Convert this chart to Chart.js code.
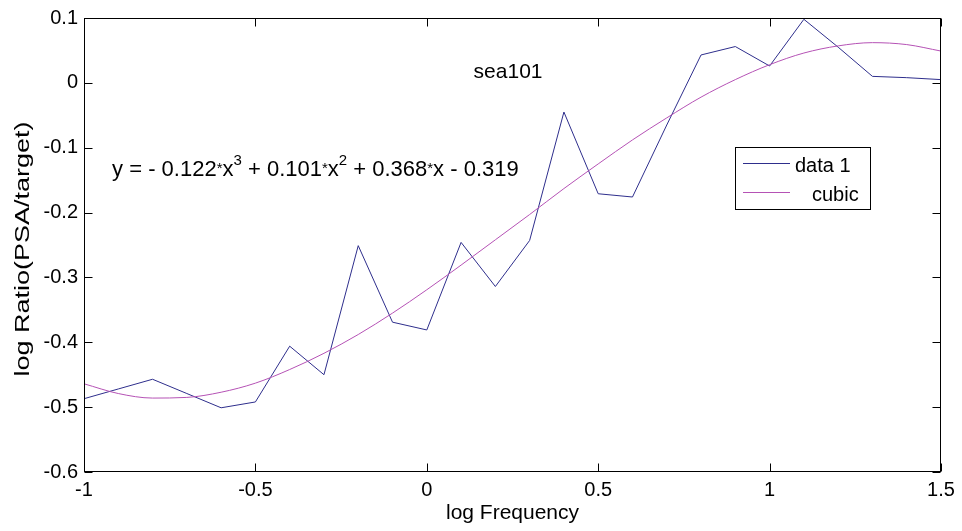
<!DOCTYPE html>
<html>
<head>
<meta charset="utf-8">
<title>sea101</title>
<script src="https://cdn.jsdelivr.net/npm/chart.js@4/dist/chart.umd.min.js"></script>
<style>
  body { margin: 0; background: #fff; }
</style>
</head>
<body>
<canvas id="chart" width="962" height="531"></canvas>
<script>
// log frequency samples (x)
var log_freq = [-1, -0.9, -0.8, -0.7, -0.6, -0.5, -0.4, -0.3, -0.2, -0.1, 0, 0.1, 0.2, 0.3, 0.4, 0.5, 0.6, 0.7, 0.8, 0.9, 1, 1.1, 1.2, 1.3, 1.4, 1.5];

// measured log ratio, "data 1"
var ratio_data = [-0.487, -0.472, -0.457, -0.479, -0.501, -0.492, -0.406, -0.450, -0.251, -0.369, -0.381, -0.246, -0.314, -0.243, -0.045, -0.171, -0.176, -0.065, 0.043, 0.056, 0.026, 0.098, 0.055, 0.010, 0.008, 0.005];

// cubic fit
var cubic_fit = [-0.464, -0.479, -0.486, -0.485, -0.477, -0.463, -0.442, -0.417, -0.388, -0.355, -0.319, -0.281, -0.242, -0.203, -0.163, -0.125, -0.088, -0.054, -0.022, 0.005, 0.028, 0.046, 0.057, 0.062, 0.059, 0.049];

var x_ticks = [-1, -0.5, 0, 0.5, 1, 1.5];
var y_ticks = [-0.6, -0.5, -0.4, -0.3, -0.2, -0.1, 0, 0.1];

var series_names = ["data 1", "cubic"];
var series_colors = ["#2e2e8c", "#b552b5"];

var plot_title = "sea101";
var x_title = "log Frequency";
var y_title = "log Ratio(PSA/target)";

function toPoints(xs, ys) {
    var pts = [];
    for (var i = 0; i < xs.length; i++) {
        pts.push({x: xs[i], y: ys[i]});
    }
    return pts;
}

function fmt(v) {
    return Number(v.toFixed(1)).toString();
}

var FONT = "'Liberation Sans', Arial, sans-serif";

// matlab style box with ticks pointing inside, plus text and legend
var matlabBox = {
    id: 'matlabBox',
    afterDatasetsDraw: function(chart) {
        var ctx = chart.ctx;
        var a = chart.chartArea;
        var xs = chart.scales.x;
        var ys = chart.scales.y;
        var L = Math.round(a.left) + 0.5, R = Math.round(a.right) - 0.5;
        var T = Math.round(a.top) + 0.5, B = Math.round(a.bottom) - 0.5;
        ctx.save();
        ctx.strokeStyle = '#000';
        ctx.lineWidth = 1;
        ctx.strokeRect(L, T, R - L, B - T);
        ctx.beginPath();
        x_ticks.forEach(function(v) {
            var px = Math.round(xs.getPixelForValue(v)) + 0.5;
            ctx.moveTo(px, B); ctx.lineTo(px, B - 8);
            ctx.moveTo(px, T); ctx.lineTo(px, T + 8);
        });
        y_ticks.forEach(function(v) {
            var py = Math.round(ys.getPixelForValue(v)) + 0.5;
            ctx.moveTo(L, py); ctx.lineTo(L + 8, py);
            ctx.moveTo(R, py); ctx.lineTo(R - 8, py);
        });
        ctx.stroke();

        // title text inside the axes
        ctx.fillStyle = '#000';
        ctx.font = '21px ' + FONT;
        ctx.textAlign = 'center';
        ctx.textBaseline = 'alphabetic';
        ctx.fillText(plot_title, xs.getPixelForValue(0.237), ys.getPixelForValue(0.008));

        // fit equation
        var parts = [
            ["y = - 0.122", 0], ["*", 1], ["x", 0], ["3", 2],
            [" + 0.101", 0], ["*", 1], ["x", 0], ["2", 2],
            [" + 0.368", 0], ["*", 1], ["x - 0.319", 0]
        ];
        var ex = xs.getPixelForValue(-0.918);
        var ey = ys.getPixelForValue(-0.143);
        ctx.textAlign = 'left';
        parts.forEach(function(p) {
            var dy = 0;
            if (p[1] === 0) ctx.font = '22px ' + FONT;
            if (p[1] === 1) { ctx.font = '15px ' + FONT; dy = -3; }
            if (p[1] === 2) { ctx.font = '15px ' + FONT; dy = -11; }
            ctx.fillText(p[0], ex, ey + dy);
            ex += ctx.measureText(p[0]).width;
        });

        // legend box
        var bx = a.right - 206, by = a.top + 129, bw = 135, bh = 62;
        ctx.fillStyle = '#fff';
        ctx.fillRect(bx, by, bw, bh);
        ctx.strokeRect(Math.round(bx) + 0.5, Math.round(by) + 0.5, bw, bh);
        var ds = chart.data.datasets;
        ctx.font = '20px ' + FONT;
        ctx.textBaseline = 'alphabetic';
        for (var i = 0; i < ds.length; i++) {
            var ly = by + 16 + i * 29;
            ctx.strokeStyle = ds[i].borderColor;
            ctx.beginPath();
            ctx.moveTo(bx + 8, ly + 0.5);
            ctx.lineTo(bx + 55, ly + 0.5);
            ctx.stroke();
            ctx.fillStyle = '#000';
            ctx.fillText(ds[i].label, bx + (i === 0 ? 60 : 77), ly + 9);
        }
        ctx.restore();

        // y axis title, matlab draws the rotated text stretched lengthwise
        ctx.save();
        ctx.translate(23, (a.top + a.bottom) / 2 + 4);
        ctx.rotate(-Math.PI / 2);
        ctx.scale(1.35, 1);
        ctx.font = '20px ' + FONT;
        ctx.fillStyle = '#000';
        ctx.textAlign = 'center';
        ctx.textBaseline = 'middle';
        ctx.fillText(y_title, 0, 0);
        ctx.restore();
    }
};

Chart.defaults.color = '#000';
Chart.defaults.font.family = FONT;

var myChart = new Chart(document.getElementById("chart"), {
    type: 'line',
    data: {
        datasets: [{
            label: series_names[0],
            data: toPoints(log_freq, ratio_data),
            borderColor: series_colors[0],
            borderWidth: 1,
            pointRadius: 0,
            tension: 0,
            order: 2
        }, {
            label: series_names[1],
            data: toPoints(log_freq, cubic_fit),
            borderColor: series_colors[1],
            borderWidth: 1,
            pointRadius: 0,
            cubicInterpolationMode: 'monotone',
            order: 1
        }]
    },
    options: {
        responsive: false,
        animation: false,
        layout: {
            padding: {left: 0, top: 17, right: 21, bottom: 0}
        },
        plugins: {
            legend: {display: false},
            tooltip: {enabled: false}
        },
        scales: {
            x: {
                type: 'linear',
                min: -1,
                max: 1.5,
                grid: {display: false, drawTicks: false},
                border: {display: false},
                ticks: {
                    stepSize: 0.5,
                    autoSkip: false,
                    maxRotation: 0,
                    padding: 6,
                    font: {size: 20},
                    callback: fmt
                },
                title: {
                    display: true,
                    text: x_title,
                    font: {size: 21},
                    padding: {top: 0, bottom: 5}
                },
                afterFit: function(scale) { scale.height = 59; }
            },
            y: {
                min: -0.6,
                max: 0.1,
                grid: {display: false, drawTicks: false},
                border: {display: false},
                ticks: {
                    stepSize: 0.1,
                    autoSkip: false,
                    padding: 6,
                    font: {size: 20},
                    callback: fmt
                },
                title: {display: false},
                afterFit: function(scale) { scale.width = 84; }
            }
        }
    },
    plugins: [matlabBox]
});
</script>
</body>
</html>
